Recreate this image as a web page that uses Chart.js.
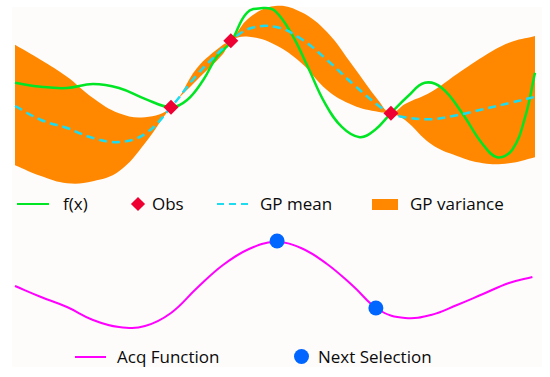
<!DOCTYPE html>
<html>
<head>
<meta charset="utf-8">
<script src="https://cdn.jsdelivr.net/npm/chart.js@4.4.1/dist/chart.umd.min.js"></script>
<style>
  html, body { margin: 0; padding: 0; background: #ffffff; }
  #wrap { position: relative; width: 550px; height: 377px; overflow: hidden; }
  #bg { position: absolute; left: 12px; top: 7px; width: 530px; height: 360px; background: #fdfcfb; }
  canvas { position: absolute; left: 0; }
  #top { top: 0; }
  #bottom { top: 225px; }
  .lbl { position: absolute; font-family: "Open Sans", sans-serif; font-size: 17px; color: #0a0a0a; line-height: 20px; white-space: nowrap; }
  .mk { position: absolute; }
</style>
</head>
<body>
<div id="wrap">
  <div id="bg"></div>
  <canvas id="top" width="550" height="190"></canvas>
  <canvas id="bottom" width="550" height="115"></canvas>

  <!-- legenda de cima -->
  <div class="mk" style="left:17px; top:203px; width:32px; height:0; border-top:2.5px solid #00e625;"></div>
  <div class="lbl" style="left:63px; top:194px;">f(x)</div>
  <div class="mk" style="left:133px; top:199px; width:10px; height:10px; background:#ee0033; transform:rotate(45deg);"></div>
  <div class="lbl" style="left:152px; top:194px;">Obs</div>
  <div class="mk" style="left:217px; top:203px; width:7px; border-top:2.5px solid #1ddcf0;"></div>
  <div class="mk" style="left:229px; top:203px; width:7px; border-top:2.5px solid #1ddcf0;"></div>
  <div class="mk" style="left:241px; top:203px; width:7px; border-top:2.5px solid #1ddcf0;"></div>
  <div class="lbl" style="left:260px; top:194px;">GP mean</div>
  <div class="mk" style="left:372px; top:199px; width:26px; height:11px; background:#ff8800;"></div>
  <div class="lbl" style="left:410px; top:194px;">GP variance</div>

  <!-- legenda de baixo -->
  <div class="mk" style="left:75px; top:356px; width:31px; height:0; border-top:2px solid #ff00ff;"></div>
  <div class="lbl" style="left:117px; top:347px;">Acq Function</div>
  <div class="mk" style="left:293.5px; top:348.5px; width:15px; height:15px; border-radius:50%; background:#0066ff;"></div>
  <div class="lbl" style="left:318px; top:347px;">Next Selection</div>
</div>

<script>
// f(x) verdadeira
const fXs = [0, 0.5, 1, 1.5, 2, 2.5, 3, 3.31, 3.62, 3.88, 4.15, 4.46, 4.77, 5, 5.33, 5.63, 5.96, 6.29, 6.63, 6.92, 7.23, 7.56, 7.88, 8.21, 8.6, 8.98, 9.27, 9.56, 9.81, 10];
const fYs = [0.43, 0.33, 0.30, 0.40, 0.30, 0.03, -0.18, 0.00, 0.50, 1.08, 1.45, 2.18, 2.30, 2.23, 1.63, 0.83, -0.08, -0.68, -0.93, -0.75, -0.33, 0.10, 0.43, 0.30, -0.33, -1.08, -1.43, -1.25, -0.43, 0.68];

// GP: media e limites da variancia
const gpXs = [0, 0.5, 1, 1.5, 2, 2.5, 3, 3.5, 4, 4.15, 4.5, 5, 5.5, 6, 6.5, 7, 7.23, 7.5, 8, 8.5, 9, 9.5, 10];
const gpMean = [-0.15, -0.50, -0.70, -0.95, -1.05, -0.85, -0.18, 0.63, 1.30, 1.48, 1.78, 1.83, 1.53, 1.00, 0.40, -0.15, -0.33, -0.43, -0.48, -0.38, -0.23, -0.08, 0.08];
const gpUpper = [1.38, 1.00, 0.58, 0.05, -0.33, -0.43, -0.18, 0.80, 1.38, 1.48, 2.05, 2.35, 2.20, 1.70, 0.85, -0.03, -0.33, -0.10, 0.20, 0.65, 1.08, 1.43, 1.60];
const gpLower = [-1.63, -1.90, -2.08, -2.03, -1.78, -1.08, -0.18, 0.50, 1.15, 1.48, 1.58, 1.38, 0.93, 0.25, -0.13, -0.30, -0.33, -0.50, -1.10, -1.40, -1.58, -1.58, -1.43];

// observacoes
const obsXs = [3.0, 4.15, 7.23];
const obsYs = [-0.18, 1.48, -0.33];

// funcao de aquisicao
const acqXs = [0, 0.5, 1, 1.5, 2, 2.5, 3, 3.5, 4, 4.5, 5, 5.5, 6, 6.5, 7, 7.5, 8, 8.5, 9, 9.5, 9.95];
const acqYs = [0.54, 0.43, 0.33, 0.20, 0.13, 0.14, 0.27, 0.52, 0.75, 0.91, 0.98, 0.92, 0.76, 0.54, 0.30, 0.22, 0.25, 0.35, 0.46, 0.57, 0.63];

// proximas selecoes
const nextXs = [5.04, 6.94];
const nextYs = [0.99, 0.32];

const pts = (xs, ys) => xs.map((x, i) => ({ x: x, y: ys[i] }));

function baseOptions(yMin, yMax) {
  return {
    responsive: false,
    animation: false,
    layout: { autoPadding: false, padding: { left: 15, right: 15, top: 0, bottom: 0 } },
    plugins: { legend: { display: false }, tooltip: { enabled: false } },
    scales: {
      x: { type: 'linear', min: 0, max: 10, display: false },
      y: { min: yMin, max: yMax, display: false }
    },
    elements: { point: { radius: 0 }, line: { tension: 0.4 } }
  };
}

new Chart(document.getElementById('top'), {
  type: 'line',
  data: {
    datasets: [
      {
        label: 'Obs',
        type: 'scatter',
        data: pts(obsXs, obsYs),
        pointStyle: 'rectRot',
        pointRadius: 7.5,
        backgroundColor: '#ee0033',
        borderColor: '#ee0033',
        borderWidth: 0,
        order: 0,
        clip: false
      },
      {
        label: 'GP mean',
        data: pts(gpXs, gpMean),
        borderColor: '#1ddcf0',
        borderWidth: 2.5,
        borderDash: [8, 5],
        pointRadius: 0,
        fill: false,
        order: 1,
        clip: false
      },
      {
        label: 'f(x)',
        data: pts(fXs, fYs),
        borderColor: '#00e625',
        borderWidth: 2.5,
        pointRadius: 0,
        fill: false,
        order: 2,
        clip: false
      },
      {
        label: 'GP variance',
        data: pts(gpXs, gpUpper),
        borderWidth: 0,
        borderColor: 'rgba(0,0,0,0)',
        backgroundColor: '#ff8800',
        pointRadius: 0,
        fill: '+1',
        order: 3,
        clip: false
      },
      {
        label: 'lower',
        data: pts(gpXs, gpLower),
        borderWidth: 0,
        borderColor: 'rgba(0,0,0,0)',
        pointRadius: 0,
        fill: false,
        order: 4,
        clip: false
      }
    ]
  },
  options: baseOptions(-2.25, 2.5)
});

new Chart(document.getElementById('bottom'), {
  type: 'line',
  data: {
    datasets: [
      {
        label: 'Next Selection',
        type: 'scatter',
        data: pts(nextXs, nextYs),
        pointStyle: 'circle',
        pointRadius: 7.5,
        backgroundColor: '#0066ff',
        borderWidth: 0,
        order: 0,
        clip: false
      },
      {
        label: 'Acq Function',
        data: pts(acqXs, acqYs),
        borderColor: '#ff00ff',
        borderWidth: 2,
        pointRadius: 0,
        fill: false,
        order: 1,
        clip: false
      }
    ]
  },
  options: baseOptions(0, 1.15)
});
</script>
</body>
</html>
